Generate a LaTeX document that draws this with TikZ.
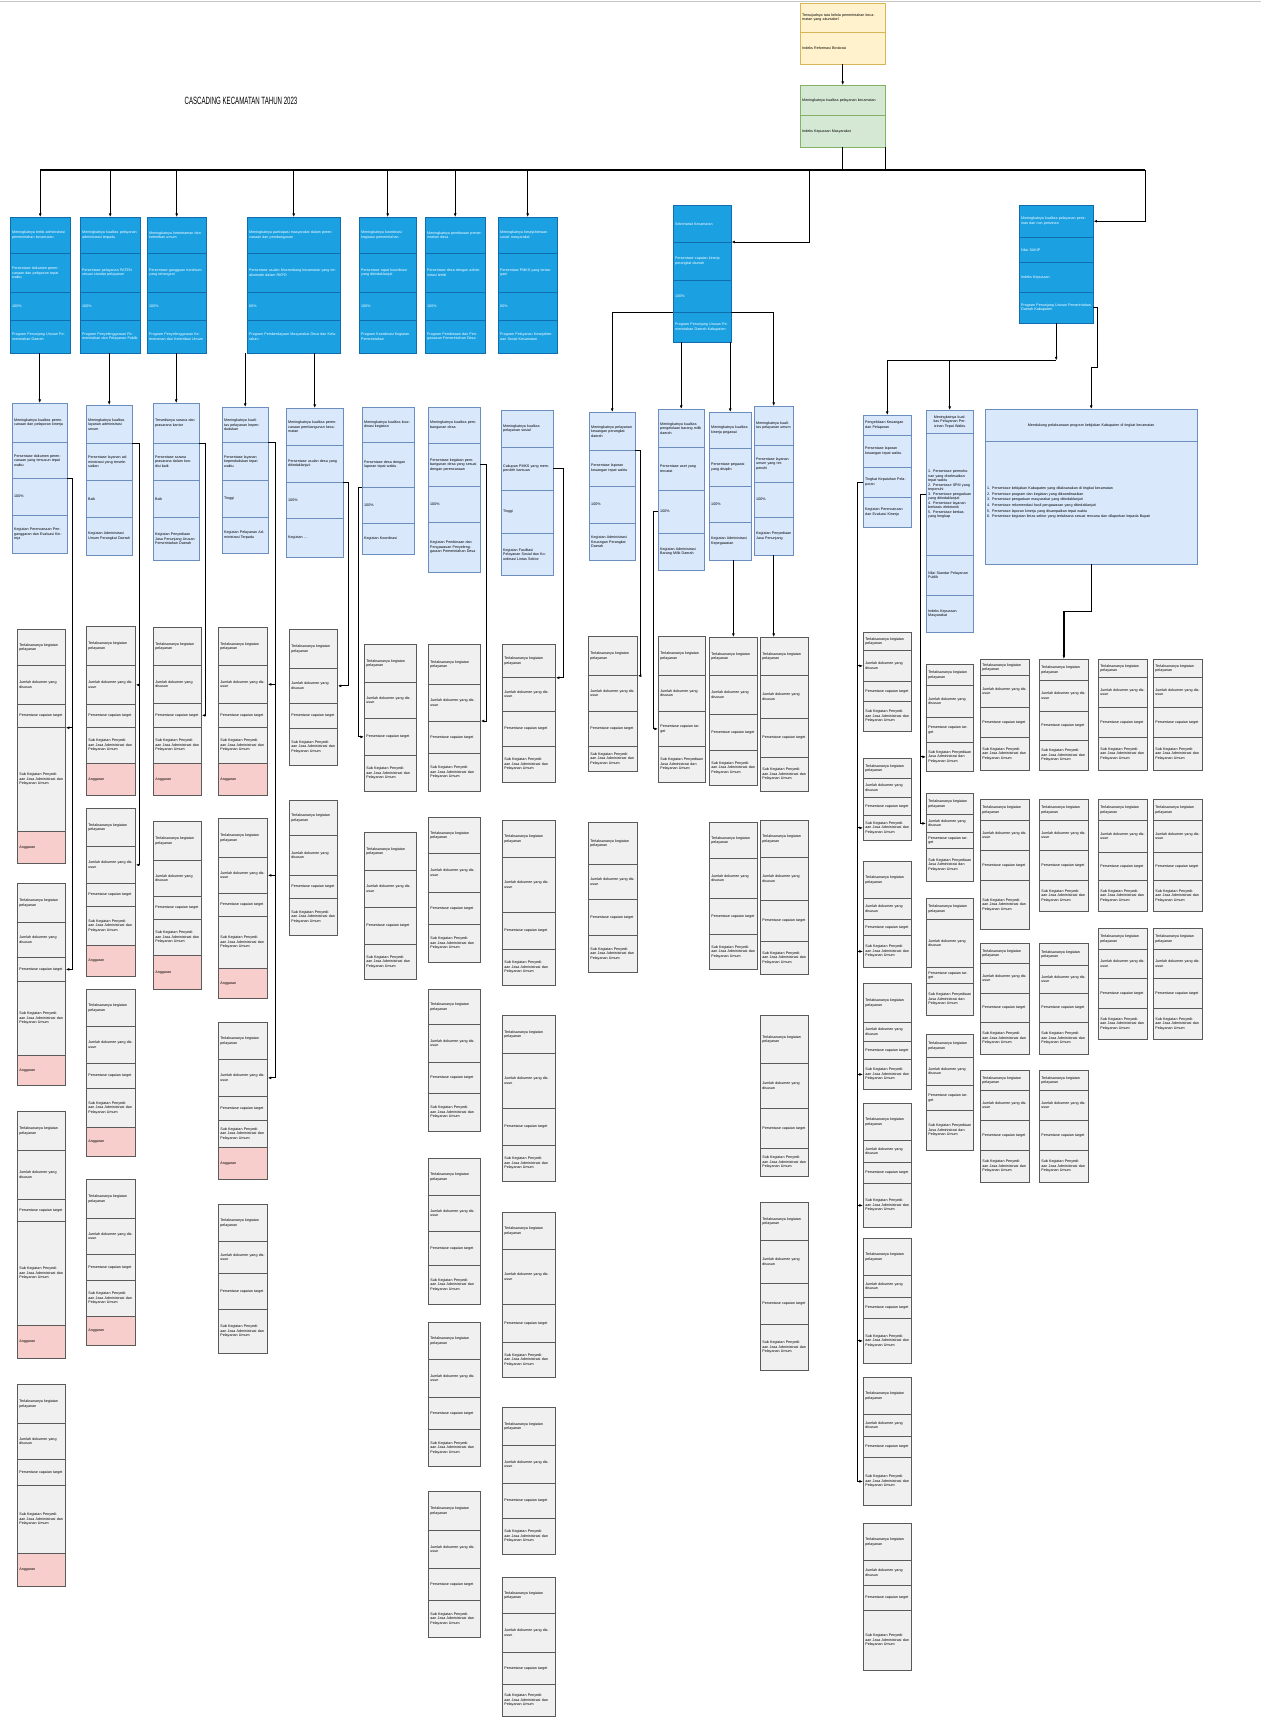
\documentclass[tikz,border=0pt]{standalone}
\usepackage{fontspec}
\setmainfont{Liberation Sans}
\usetikzlibrary{arrows.meta}

\definecolor{tealblue}{RGB}{27,161,226}
\definecolor{tealline}{RGB}{16,110,175}
\definecolor{paleblue}{RGB}{218,232,252}
\definecolor{paleline}{RGB}{108,142,191}
\definecolor{softgray}{RGB}{240,240,240}
\definecolor{grayline}{RGB}{90,90,90}
\definecolor{softpink}{RGB}{248,206,204}
\definecolor{softyellow}{RGB}{255,242,204}
\definecolor{yellowline}{RGB}{214,182,86}
\definecolor{softgreen}{RGB}{213,232,212}
\definecolor{greenline}{RGB}{130,179,102}

\tikzset{
  cellbase/.style={draw,line width=0.6pt,inner xsep=1.5pt,inner ysep=0.5pt,
    align=left,font=\fontsize{5.2}{6.4}\selectfont},
  bluecell/.style={cellbase,fill=tealblue,draw=tealline,text=white},
  palecell/.style={cellbase,fill=paleblue,draw=paleline},
  greycell/.style={cellbase,fill=softgray,draw=grayline,line width=1.1pt},
  pinkcell/.style={greycell,fill=softpink},
  yellowcell/.style={cellbase,fill=softyellow,draw=yellowline},
  greencell/.style={cellbase,fill=softgreen,draw=greenline},
  conn/.style={-{Latex[length=5pt,width=4pt]},line width=1.2pt},
  connbold/.style={conn,line width=2pt},
  link/.style={line width=1.2pt},
  bus/.style={line width=2.4pt},
}

% one cell of a stacked box, placed by its top left corner
\newcommand{\cell}[7]{%
  \node[#2,anchor=north west,minimum width={(#4-#3)*0.5mm},
    minimum height={(#6-#5)*0.5mm},text width={(#4-#3-4)*0.5mm}]
    (#1) at (#3,#5) {#7};}
% a stack of cells: name, style, left, right, {top/bottom/text,...}
\newcommand{\kartu}[5]{%
  \foreach \ya/\yb/\tx [count=\i] in {#5}
    {\cell{#1-\i}{#2}{#3}{#4}{\ya}{\yb}{\tx}}}
% grey activity stacks
\newcommand{\gstack}[8]{%
  \kartu{#1}{greycell}{#2}{#3}{#4/#5/Terlaksananya kegiatan pelayanan,
    #5/#6/Jumlah dokumen yang disusun,#6/#7/Persentase capaian target,
    #7/#8/Sub Kegiatan Penyediaan Jasa Administrasi dan Pelayanan Umum}}
\newcommand{\anggaran}[5]{\cell{#1-5}{pinkcell}{#2}{#3}{#4}{#5}{Anggaran}}
\newcommand{\gstackp}[9]{\gstack{#1}{#2}{#3}{#4}{#5}{#6}{#7}{#8}\anggaran{#1}{#2}{#3}{#8}{#9}}

\begin{document}
\begin{tikzpicture}[x=0.5mm,y=-0.5mm]
\useasboundingbox (0,0) rectangle (1261,1718);
\draw[gray!45,line width=1pt] (0,1.5) -- (1261,1.5);

% Title
\node[font=\fontsize{15}{15}\selectfont,xscale=0.58] (title) at (241,101) {CASCADING KECAMATAN TAHUN 2023};

% Kecamatan goal and target
\kartu{tujuan}{yellowcell}{800}{885}{3/32/Terwujudnya tata kelola pemerintahan kecamatan yang akuntabel,32/64/Indeks Reformasi Birokrasi}
\kartu{sasaran}{greencell}{800}{885}{85/115/Meningkatnya kualitas pelayanan kecamatan,115/147/Indeks Kepuasan Masyarakat}
\draw[conn] (tujuan-2.south) -- (sasaran-1.north);

% Main bus
\coordinate (busL) at (40,170);
\coordinate (busR) at (1145,170);
\coordinate (busS) at (809,170);
\draw[bus] (busL) -- (busR);
\draw[link] (sasaran-2.south) -- (sasaran-2.south |- busL);
\draw[link] (sasaran-2.south east) -- (sasaran-2.south east |- busL);

% Level 1: sasaran strategis
\kartu{sas1}{bluecell}{10}{70}{217/253/Meningkatnya tertib administrasi pemerintahan kecamatan,253/292/Persentase dokumen perencanaan dan pelaporan tepat waktu,292/320/100\%,320/353/Program Penunjang Urusan Pemerintahan Daerah}
\kartu{sas2}{bluecell}{80}{140}{217/253/Meningkatnya kualitas pelayanan administrasi terpadu,253/292/Persentase pelayanan PATEN sesuai standar pelayanan,292/320/100\%,320/353/Program Penyelenggaraan Pemerintahan dan Pelayanan Publik}
\kartu{sas3}{bluecell}{147}{206}{217/253/Meningkatnya ketentraman dan ketertiban umum,253/292/Persentase gangguan trantibum yang tertangani,292/320/100\%,320/353/Program Penyelenggaraan Ketentraman dan Ketertiban Umum}
\kartu{sas4}{bluecell}{247}{340}{217/253/Meningkatnya partisipasi masyarakat dalam perencanaan dan pembangunan,253/292/Persentase usulan Musrenbang kecamatan yang terakomodir dalam RKPD,292/320/60\%,320/353/Program Pemberdayaan Masyarakat Desa dan Kelurahan}
\kartu{sas5}{bluecell}{359}{416}{217/253/Meningkatnya koordinasi kegiatan pemerintahan,253/292/Persentase rapat koordinasi yang ditindaklanjuti,292/320/100\%,320/353/Program Koordinasi Kegiatan Pemerintahan}
\kartu{sas6}{bluecell}{425}{485}{217/253/Meningkatnya pembinaan pemerintahan desa,253/292/Persentase desa dengan administrasi tertib,292/320/100\%,320/353/Program Pembinaan dan Pengawasan Pemerintahan Desa}
\kartu{sas7}{bluecell}{498}{557}{217/253/Meningkatnya kesejahteraan sosial masyarakat,253/292/Persentase PMKS yang tertangani,292/320/80\%,320/353/Program Pelayanan Kesejahteraan Sosial Kecamatan}
\kartu{sas8}{bluecell}{673}{731}{205/242/Sekretariat Kecamatan,242/280/Persentase capaian kinerja perangkat daerah,280/312/100\%,312/342/Program Penunjang Urusan Pemerintahan Daerah Kabupaten}
\kartu{sas9}{bluecell}{1019}{1093}{205/237/Meningkatnya kualitas pelayanan perizinan dan non perizinan,237/262/Nilai SAKIP,262/292/Indeks Kepuasan,292/323/Program Penunjang Urusan Pemerintahan Daerah Kabupaten}

\foreach \k in {1,...,7}
  \draw[conn] (sas\k-1.north |- busL) -- (sas\k-1.north);
\draw[conn] (busS) |- (sas8-2.north east);
\draw[conn] (busR) |- (sas9-1.east);

% Level 2: sasaran program
\kartu{prog1}{palecell}{12}{67}{403/442/Meningkatnya kualitas perencanaan dan pelaporan kinerja,442/478/Persentase dokumen perencanaan yang tersusun tepat waktu,478/515/100\%,515/553/Kegiatan Perencanaan Penganggaran dan Evaluasi Kinerja}
\kartu{prog2}{palecell}{86}{132}{405/443/Meningkatnya kualitas layanan administrasi umum,443/480/Persentase layanan administrasi yang terselesaikan,480/517/Baik,517/555/Kegiatan Administrasi Umum Perangkat Daerah}
\kartu{prog3}{palecell}{153}{199}{403/443/Tersedianya sarana dan prasarana kantor,443/480/Persentase sarana prasarana dalam kondisi baik,480/517/Baik,517/560/Kegiatan Penyediaan Jasa Penunjang Urusan Pemerintahan Daerah}
\kartu{prog4}{palecell}{222}{268}{407/442/Meningkatnya kualitas pelayanan kependudukan,442/480/Persentase layanan kependudukan tepat waktu,480/517/Tinggi,517/553/Kegiatan Pelayanan Administrasi Terpadu}
\kartu{prog5}{palecell}{286}{343}{408/445/Meningkatnya kualitas perencanaan pembangunan kecamatan,445/482/Persentase usulan desa yang ditindaklanjuti,482/518/100\%,518/557/Kegiatan \ldots}
\kartu{prog6}{palecell}{362}{414}{407/442/Meningkatnya kualitas koordinasi kegiatan,442/487/Persentase desa dengan laporan tepat waktu,487/523/100\%,523/554/Kegiatan Koordinasi}
\kartu{prog7}{palecell}{428}{480}{407/443/Meningkatnya kualitas pembangunan desa,443/486/Persentase kegiatan pembangunan desa yang sesuai dengan perencanaan,486/522/100\%,522/572/Kegiatan Pembinaan dan Pengawasan Penyelenggaraan Pemerintahan Desa}
\kartu{prog8}{palecell}{501}{553}{410/447/Meningkatnya kualitas pelayanan sosial,447/490/Cakupan PMKS yang memperoleh bantuan,490/533/Tinggi,533/575/Kegiatan Fasilitasi Pelayanan Sosial dan Koordinasi Lintas Sektor}
\kartu{prog9}{palecell}{589}{635}{412/450/Meningkatnya pelayanan keuangan perangkat daerah,450/486/Persentase laporan keuangan tepat waktu,486/523/100\%,523/560/Kegiatan Administrasi Keuangan Perangkat Daerah}
\kartu{prog10}{palecell}{658}{704}{409/447/Meningkatnya kualitas pengelolaan barang milik daerah,447/490/Persentase aset yang tercatat,490/533/100\%,533/570/Kegiatan Administrasi Barang Milik Daerah}
\kartu{prog11}{palecell}{709}{751}{412/448/Meningkatnya kualitas kinerja pegawai,448/486/Persentase pegawai yang disiplin,486/522/100\%,522/560/Kegiatan Administrasi Kepegawaian}
\kartu{prog12}{palecell}{754}{793}{406/445/Meningkatnya kualitas pelayanan umum,445/482/Persentase layanan umum yang terpenuhi,482/517/100\%,517/555/Kegiatan Penyediaan Jasa Penunjang}
\kartu{prog13}{palecell}{863}{911}{415/435/Pengelolaan Keuangan dan Pelaporan,435/467/Persentase laporan keuangan tepat waktu,467/497/Tingkat Kepatuhan Pelaporan,497/527/Kegiatan Perencanaan dan Evaluasi Kinerja}
\cell{prog14-1}{palecell,align=center}{926}{973}{410}{433}{Meningkatnya kualitas Pelayanan Perizinan Tepat Waktu}
\cell{prog14-2}{palecell}{926}{973}{433}{555}{1. Persentase permohonan yang diselesaikan tepat waktu\\2. Persentase SPM yang terpenuhi\\3. Persentase pengaduan yang ditindaklanjuti\\4. Persentase layanan berbasis elektronik\\5. Persentase berkas yang lengkap}
\cell{prog14-3}{palecell}{926}{973}{555}{595}{Nilai Standar Pelayanan Publik}
\cell{prog14-4}{palecell}{926}{973}{595}{632}{Indeks Kepuasan Masyarakat}
\cell{prog15-1}{palecell,align=center}{985}{1197}{409}{441}{Mendukung pelaksanaan program kebijakan Kabupaten di tingkat kecamatan}
\cell{prog15-2}{palecell,font=\fontsize{5.2}{8}\selectfont}{985}{1197}{441}{564}{1. Persentase kebijakan Kabupaten yang dilaksanakan di tingkat kecamatan\\2. Persentase program dan kegiatan yang dikoordinasikan\\3. Persentase pengaduan masyarakat yang ditindaklanjuti\\4. Persentase rekomendasi hasil pengawasan yang ditindaklanjuti\\5. Persentase laporan kinerja yang disampaikan tepat waktu\\6. Persentase kegiatan lintas sektor yang terlaksana sesuai rencana dan dilaporkan kepada Bupati}

% Level 1 to level 2
\foreach \a/\b in {1/1,2/2,3/3,4/4,4/5,8/10,8/11}
  \draw[conn] (prog\b-1.north |- sas\a-4.south) -- (prog\b-1.north);
\draw[connbold] (sas8-3.south west) -| (prog9-1.north);
\draw[connbold] (sas8-3.south east) -| (prog12-1.north);
\draw[connbold] (sas9-4.south) -- ++(0,37) coordinate (j9);
\draw[conn] (j9) -| (prog13-1.north);
\draw[conn] (j9) -| (prog14-1.north);
\draw[conn] (sas9-4.east) -- ++(4,0) -- ++(0,60) -| (prog15-1.north);

% Level 3: kegiatan stacks
\gstackp{kegA1}{17}{65}{629}{665}{704}{727}{831}{863}
\gstackp{kegA2}{17}{65}{883}{922}{957}{981}{1055}{1085}
\gstackp{kegA3}{17}{65}{1111}{1150}{1199}{1221}{1325}{1358}
\gstackp{kegA4}{17}{65}{1384}{1423}{1459}{1485}{1553}{1586}
\gstackp{kegB1}{86}{135}{626}{665}{704}{727}{763}{795}
\gstackp{kegB2}{86}{135}{808}{846}{883}{906}{945}{976}
\gstackp{kegB3}{86}{135}{989}{1026}{1063}{1088}{1127}{1156}
\gstackp{kegB4}{86}{135}{1179}{1218}{1254}{1280}{1316}{1345}
\gstackp{kegC1}{153}{201}{627}{665}{703}{727}{763}{795}
\gstackp{kegC2}{153}{201}{821}{860}{896}{919}{955}{989}
\gstackp{kegD1}{218}{267}{627}{665}{703}{727}{763}{795}
\gstackp{kegD2}{218}{267}{818}{857}{893}{916}{968}{998}
\gstackp{kegD3}{218}{267}{1022}{1059}{1096}{1120}{1147}{1179}
\gstack{kegD4}{218}{267}{1204}{1241}{1273}{1309}{1353}
\gstack{kegE1}{289}{337}{629}{668}{703}{728}{765}
\gstack{kegE2}{289}{337}{800}{835}{875}{898}{935}
\gstack{kegF1}{364}{416}{644}{682}{718}{755}{791}
\gstack{kegF2}{364}{416}{832}{870}{907}{944}{979}
\gstack{kegG1}{428}{480}{644}{684}{721}{753}{791}
\gstack{kegG2}{428}{480}{817}{853}{892}{924}{962}
\gstack{kegG3}{428}{480}{989}{1024}{1062}{1093}{1131}
\gstack{kegG4}{428}{480}{1158}{1195}{1231}{1265}{1304}
\gstack{kegG5}{428}{480}{1322}{1359}{1397}{1429}{1466}
\gstack{kegG6}{428}{480}{1491}{1530}{1568}{1600}{1637}
\gstack{kegH1}{502}{555}{644}{677}{711}{746}{782}
\gstack{kegH2}{502}{555}{820}{857}{912}{949}{985}
\gstack{kegH3}{502}{555}{1015}{1053}{1108}{1145}{1181}
\gstack{kegH4}{502}{555}{1212}{1249}{1304}{1342}{1377}
\gstack{kegH5}{502}{555}{1407}{1445}{1483}{1518}{1554}
\gstack{kegH6}{502}{555}{1577}{1613}{1652}{1684}{1716}
\gstack{kegI1}{588}{637}{636}{675}{711}{746}{771}
\gstack{kegI2}{588}{637}{822}{864}{899}{935}{972}
\gstack{kegJ1}{658}{705}{636}{675}{711}{746}{782}
\gstack{kegK1}{709}{757}{637}{675}{714}{750}{785}
\gstack{kegK2}{709}{757}{822}{858}{898}{934}{969}
\gstack{kegL1}{760}{808}{637}{675}{718}{757}{791}
\gstack{kegL2}{760}{808}{820}{857}{900}{941}{974}
\gstack{kegL3}{760}{808}{1015}{1063}{1108}{1148}{1176}
\gstack{kegL4}{760}{808}{1202}{1240}{1283}{1324}{1370}
\gstack{kegM1}{863}{911}{632}{650}{681}{701}{731}
\gstack{kegM2}{863}{911}{758}{778}{797}{815}{840}
\gstack{kegM3}{863}{911}{861}{898}{919}{935}{967}
\gstack{kegM4}{863}{911}{983}{1022}{1041}{1059}{1089}
\gstack{kegM5}{863}{911}{1103}{1140}{1162}{1183}{1227}
\gstack{kegM6}{863}{911}{1238}{1275}{1297}{1318}{1363}
\gstack{kegM7}{863}{911}{1377}{1414}{1436}{1457}{1505}
\gstack{kegM8}{863}{911}{1523}{1560}{1585}{1610}{1670}
\gstack{kegN1}{926}{973}{664}{685}{717}{742}{771}
\gstack{kegN2}{926}{973}{793}{814}{832}{848}{881}
\gstack{kegN3}{926}{973}{898}{919}{967}{983}{1015}
\gstack{kegN4}{926}{973}{1034}{1057}{1085}{1110}{1150}
\gstack{kegP1}{980}{1029}{659}{675}{707}{737}{770}
\gstack{kegP2}{1039}{1088}{659}{680}{711}{740}{770}
\gstack{kegP3}{1098}{1147}{659}{677}{707}{737}{770}
\gstack{kegP4}{1153}{1202}{659}{677}{707}{737}{770}
\gstack{kegP5}{980}{1029}{799}{820}{850}{880}{929}
\gstack{kegP6}{1039}{1088}{799}{820}{850}{880}{911}
\gstack{kegP7}{1098}{1147}{799}{820}{852}{880}{911}
\gstack{kegP8}{1153}{1202}{799}{820}{852}{880}{911}
\gstack{kegP9}{980}{1029}{943}{963}{993}{1022}{1054}
\gstack{kegP10}{1039}{1088}{943}{965}{993}{1022}{1054}
\gstack{kegP11}{1098}{1147}{928}{949}{978}{1008}{1039}
\gstack{kegP12}{1153}{1202}{928}{949}{978}{1008}{1039}
\gstack{kegP13}{980}{1029}{1070}{1090}{1120}{1150}{1182}
\gstack{kegP14}{1039}{1088}{1070}{1090}{1120}{1150}{1182}

% Level 2 to level 3
\draw[conn] (prog1-3.north east) -- ++(5,0) |- (kegA1-3.south east);
\draw[conn] (prog1-3.north east) -- ++(5,0) |- (kegA2-3.east);
\draw[conn] (prog2-2.north east) -- ++(7,0) |- (kegB1-2.east);
\draw[conn] (prog2-2.north east) -- ++(7,0) |- (kegB2-2.east);
\draw[conn] (prog3-2.north east) -- ++(6,0) |- (kegC1-3.east);
\foreach \n in {1,2,3}
  \draw[conn] (prog4-2.north east) -- ++(7,0) |- (kegD\n-2.east);
\draw[conn] (prog5-3.north east) -- ++(5,0) |- (kegE1-2.east);
\draw[conn] (prog6-3.north west) -- ++(-4,0) |- (kegF1-3.west);
\draw[conn] (prog7-2.east) -- ++(6,0) |- (kegG1-3.north east);
\draw[conn] (prog8-2.east) -- ++(10,0) |- (kegH1-1.south east);
\draw[conn] (prog9-2.north east) -- ++(5,0) |- (kegI1-1.south east);
\draw[conn] (prog10-3.west) -- ++(-5,0) |- (kegJ1-3.west);
\draw[conn] (kegK1-1.north |- prog11-4.south) -- (kegK1-1.north);
\draw[conn] (prog12-4.south) -- (prog12-4.south |- kegL1-1.north);
\foreach \n/\r in {1/2,2/4,3/4,4/4,5/4,6/4,7/4}
  \draw[conn] (prog13-3.west) -- ++(-6,0) |- (kegM\n-\r.west);
\draw[conn] (prog14-2.west) -- ++(-6,0) |- (kegN1-4.west);
\draw[conn] (prog14-2.west) -- ++(-6,0) |- (kegN2-2.west);
\draw[connbold] (prog15-2.south) -- ++(0,47) -| (kegP2-1.north);
\end{tikzpicture}
\end{document}
